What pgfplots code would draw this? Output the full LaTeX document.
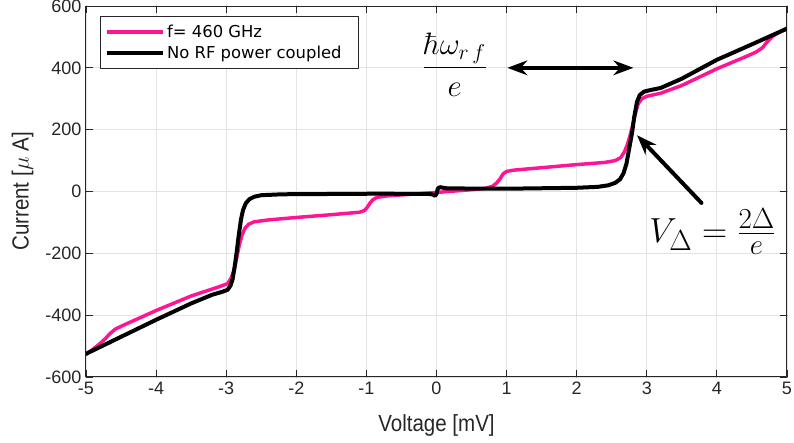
\documentclass[border=0pt]{standalone}
\usepackage[no-math]{fontspec}
\setmainfont{Liberation Sans}
\newfontfamily\legfont{DejaVu Sans}
\newfontfamily\labfont[FakeStretch=0.88]{Liberation Sans}
\usepackage{pgfplots}
\pgfplotsset{compat=1.18}
\usetikzlibrary{arrows.meta}

\definecolor{ivPink}{HTML}{FF1493}
\definecolor{ivGrid}{HTML}{E3E3E3}
\definecolor{ivAxis}{HTML}{262626}

\begin{document}
\begin{tikzpicture}
\useasboundingbox (-64.5pt,-49.5pt) rectangle (531pt,282.75pt);
\begin{axis}[
	at={(0,0)}, anchor=south west,
	scale only axis,
	width=525.75pt, height=278.25pt,
	xmin=-5, xmax=5, ymin=-600, ymax=600,
	xtick={-5,-4,...,5},
	ytick={-600,-400,...,600},
	/pgf/number format/assume math mode=true,
	tick label style={font=\fontsize{13.5}{16}\selectfont, text=ivAxis},
	label style={font=\labfont\fontsize{17.5}{20}\selectfont, text=ivAxis},
	xlabel={Voltage [mV]},
	ylabel={Current [$\mu$ A]},
	xlabel style={yshift=-8pt},
	ylabel style={yshift=2pt},
	grid=major,
	major grid style={draw=ivGrid, line width=0.6pt},
	axis line style={draw=ivAxis, line width=0.75pt},
	major tick style={draw=ivAxis, line width=0.6pt},
	major tick length=5pt,
	tick align=inside,
	legend style={
		at={(0.02,0.972)}, anchor=north west,
		draw=ivAxis, line width=0.75pt,
		font=\legfont\fontsize{12.3}{14}\selectfont,
		cells={anchor=west},
		inner xsep=3pt, inner ysep=4pt,
		row sep=1pt,
	},
	legend image code/.code={\draw[#1] (0pt,0pt) -- (42pt,0pt);},
	line join=round, line cap=round,
]
\addplot[ivPink, line width=2.6pt] coordinates {
	(-5.0,-527) (-4.9,-510) (-4.8,-492) (-4.72,-475) (-4.66,-460)
	(-4.58,-445) (-4.5,-436) (-4.0,-385) (-3.5,-338) (-3.1,-308)
	(-2.98,-298) (-2.93,-280) (-2.89,-255) (-2.85,-215) (-2.81,-170)
	(-2.77,-138) (-2.73,-118) (-2.68,-106) (-2.6,-98) (-2.4,-92)
	(-2.0,-84) (-1.5,-75) (-1.1,-67) (-1.03,-62) (-0.99,-52)
	(-0.95,-38) (-0.91,-27) (-0.85,-19) (-0.7,-14) (-0.3,-8)
	(0.0,-3) (0.4,4) (0.7,10) (0.8,17) (0.86,28)
	(0.91,42) (0.95,57) (1.0,65) (1.1,69) (1.5,77)
	(2.0,87) (2.4,94) (2.55,100) (2.63,110) (2.68,128)
	(2.72,150) (2.76,180) (2.8,215) (2.84,255) (2.88,285)
	(2.93,300) (3.0,308) (3.2,318) (3.5,343) (4.0,397)
	(4.4,435) (4.55,450) (4.65,465) (4.72,485) (4.8,503)
	(4.9,516) (5.0,527)
};
\addlegendentry{f= 460 GHz}
\addplot[black, line width=3pt] coordinates {
	(-5.0,-525) (-4.5,-470) (-4.0,-415) (-3.5,-362) (-3.2,-334)
	(-3.05,-324) (-2.98,-318) (-2.94,-305) (-2.91,-285) (-2.88,-245)
	(-2.85,-195) (-2.82,-140) (-2.79,-92) (-2.76,-60) (-2.72,-38)
	(-2.67,-25) (-2.6,-17) (-2.5,-12) (-2.2,-9) (-1.5,-8)
	(-0.8,-7) (-0.1,-8) (-0.05,-10) (-0.02,-14) (0.0,-8)
	(0.02,10) (0.05,14) (0.15,10) (1.0,9) (2.0,12)
	(2.3,15) (2.45,20) (2.55,28) (2.62,40) (2.67,60)
	(2.71,90) (2.75,140) (2.79,190) (2.82,240) (2.86,290)
	(2.9,312) (2.96,323) (3.05,328) (3.2,335) (3.5,365)
	(4.0,426) (4.5,476) (5.0,527)
};
\addlegendentry{No RF power coupled\hspace*{8pt}}

\draw[black, line width=3pt, {Stealth[length=15pt,width=11pt]}-{Stealth[length=15pt,width=11pt]}]
	(axis cs:1.01,400) -- (axis cs:2.81,400);
\draw[black, line width=3pt, -{Stealth[length=15pt,width=11pt]}]
	(axis cs:3.78,-37) -- (axis cs:2.86,182);
\node[inner sep=0pt, font=\huge] at (axis cs:0.26,410)
	{\scalebox{1.12}{$\displaystyle\frac{\hbar\omega_{r\,f}}{e}$}};
\node[inner sep=0pt, font=\Huge] at (axis cs:3.94,-130)
	{\scalebox{1.05}{$V_\Delta = \frac{2\Delta}{e}$}};
\end{axis}
\end{tikzpicture}
\end{document}
